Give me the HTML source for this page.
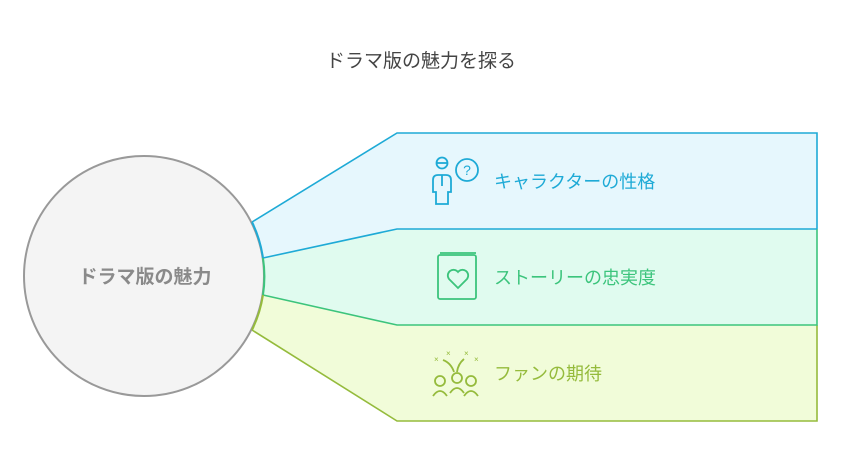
<!DOCTYPE html>
<html><head><meta charset="utf-8"><style>
body{margin:0;background:#fff;}
svg{display:block;font-family:"Liberation Sans","Noto Sans CJK JP",sans-serif;}
</style></head><body>
<svg width="843" height="470" viewBox="0 0 843 470">
<text x="421" y="67" text-anchor="middle" font-size="19" fill="#444">ドラマ版の魅力を探る</text>
<polygon points="252,222 397,133 817,133 817,229 397,229 263,258 200,260" fill="#e6f7fd"/>
<polygon points="263,258 397,229 817,229 817,325 397,325 263,295 200,280" fill="#e0fbef"/>
<polygon points="263,295 397,325 817,325 817,421 397,421 252,330 200,300" fill="#f1fcd9"/>
<polyline points="252,222 397,133 817,133 817,229" fill="none" stroke="#1eaad6" stroke-width="1.6"/>
<polyline points="817,325 817,421 397,421 252,330" fill="none" stroke="#95bb3c" stroke-width="1.6"/>
<polyline points="817,229 817,325 397,325 263,295" fill="none" stroke="#3cc47c" stroke-width="1.6"/>
<polyline points="263,258 397,229 817,229" fill="none" stroke="#1eaad6" stroke-width="1.6"/>
<circle cx="144" cy="276" r="120" fill="#f4f4f4" stroke="#999" stroke-width="2"/>
<path d="M252,222 A120,120 0 0 1 263,258" fill="none" stroke="#1eaad6" stroke-width="2"/>
<path d="M263,258 A120,120 0 0 1 263,295" fill="none" stroke="#3cc47c" stroke-width="2"/>
<path d="M263,295 A120,120 0 0 1 252,330" fill="none" stroke="#95bb3c" stroke-width="2"/>
<text x="145" y="283" text-anchor="middle" font-size="19" font-weight="bold" fill="#8a8a8a">ドラマ版の魅力</text>
<g fill="none" stroke="#1eaad6" stroke-width="1.8">
<circle cx="442" cy="163" r="5.5"/><line x1="437" y1="163" x2="447" y2="163"/>
<path d="M436,204 v-12 h-3 v-12 q0,-5 5,-5 h8 q5,0 5,5 v12 h-3 v12 z"/><line x1="442" y1="175" x2="442" y2="186"/>
<circle cx="467" cy="170" r="11"/></g>
<text x="467" y="175" text-anchor="middle" font-size="14" fill="#1eaad6">?</text>
<text x="494" y="188" font-size="18" fill="#1eaad6">キャラクターの性格</text>
<g fill="none" stroke="#3cc47c" stroke-width="1.8">
<rect x="438" y="255" width="38" height="44" rx="2"/><line x1="440" y1="253" x2="476" y2="253"/>
<path d="M458,288 l-9,-9 a5,5 0 0 1 9,-7 a5,5 0 0 1 9,7 z"/></g>
<text x="494" y="284" font-size="18" fill="#3cc47c">ストーリーの忠実度</text>
<g fill="none" stroke="#95bb3c" stroke-width="1.8">
<circle cx="440" cy="381" r="5"/><circle cx="457" cy="378" r="5"/><circle cx="471" cy="381" r="5"/>
<path d="M433,396 q7,-10 14,0 M450,393 q7,-10 14,0 M464,396 q7,-10 14,0"/>
<path d="M443,360 q8,3 11,12 M464,359 q-6,5 -7,13"/></g>
<g fill="#95bb3c" font-size="8"><text x="434" y="362">×</text><text x="446" y="356">×</text><text x="464" y="356">×</text><text x="474" y="362">×</text></g>
<text x="494" y="380" font-size="18" fill="#95bb3c">ファンの期待</text>
</svg>
</body></html>
